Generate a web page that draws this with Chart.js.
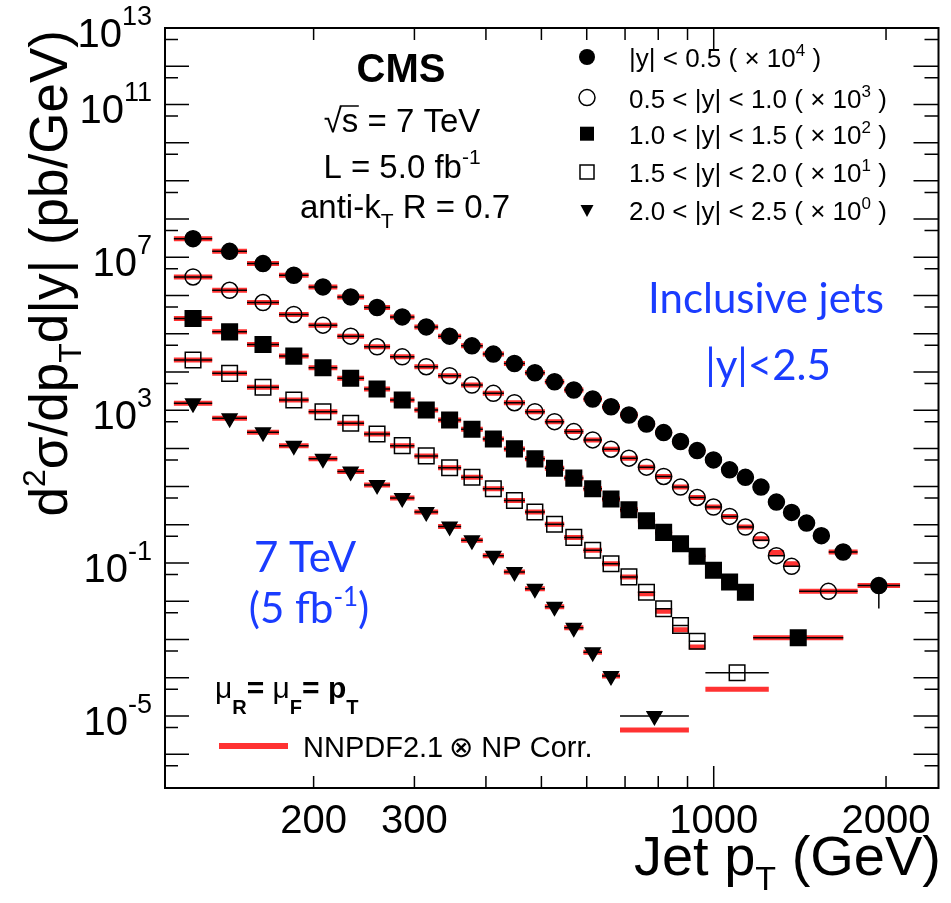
<!DOCTYPE html>
<html>
<head>
<meta charset="utf-8">
<title>CMS inclusive jets 7 TeV</title>
<script src="https://cdn.jsdelivr.net/npm/chart.js@4.4.1/dist/chart.umd.min.js"></script>
<style>
  html, body { margin: 0; padding: 0; background: #fff; }
  canvas { display: block; }
</style>
</head>
<body>
<canvas id="jetChart" width="951" height="903"></canvas>
<script>
// jet pT bin edges (GeV)
const binEdges = [114, 133, 153, 174, 196, 220, 245, 272, 300, 330, 362, 395, 430, 468, 507, 548, 592, 638, 686, 737, 790, 846, 905, 967, 1032, 1101, 1172, 1248, 1327, 1410, 1497, 1588, 1684, 1784, 1890, 2000, 2116];

const rapidityBins = ['|y| < 0.5', '0.5 < |y| < 1.0', '1.0 < |y| < 1.5', '1.5 < |y| < 2.0', '2.0 < |y| < 2.5'];
const scaleExps = [4, 3, 2, 1, 0];
// number of regular bins per rapidity range, then the wide bins at the end
const nRegular = [31, 29, 26, 23, 18];
const mergedBins = [
  [[1588, 1784], [1784, 2116]],
  [[1410, 1784]],
  [[1172, 1684]],
  [[967, 1248]],
  [[686, 905]]
];

// measured d2sigma/dpT d|y| (pb/GeV), before the scale factor
const dataY05 = [3.08e3, 1.43e3, 6.85e2, 3.39e2, 1.68e2, 92, 48.7, 27.6, 15.1, 8.65, 4.83, 2.93, 1.67, 0.95, 0.555, 0.337, 0.196, 0.123, 0.075, 0.0436, 0.0259, 0.0151, 0.00877, 0.0050, 0.00275, 0.00175, 0.00097, 0.000394, 0.000211, 0.000111, 5.2e-5, 1.95e-5, 2.57e-6];
const dataY10 = [3.06e3, 1.37e3, 656, 319, 168, 86.5, 45.5, 24.9, 13.7, 7.96, 4.55, 2.76, 1.57, 0.914, 0.501, 0.275, 0.167, 0.0953, 0.0555, 0.0323, 0.0184, 0.0097, 0.00519, 0.00292, 0.00166, 0.000877, 0.000392, 0.000156, 8.2e-5, 1.82e-5];
const dataY15 = [2510, 1120, 526, 260, 129, 68.1, 35.8, 18.5, 10.1, 5.55, 3.17, 1.77, 0.97, 0.532, 0.301, 0.167, 0.0877, 0.0472, 0.0248, 0.0128, 0.00634, 0.00321, 0.0015, 0.000646, 0.000321, 0.000172, 1.11e-5];
const dataY20 = [2050, 919, 396, 185, 91.4, 45.5, 23.9, 11.8, 6.37, 3.10, 1.75, 0.877, 0.434, 0.216, 0.104, 0.0469, 0.0215, 0.00964, 0.00434, 0.00172, 0.000634, 0.000232, 9.04e-5, 1.35e-5];
const dataY25 = [1510, 615, 265, 118, 53.2, 24.8, 11.1, 5.01, 2.16, 0.908, 0.392, 0.156, 0.0586, 0.0211, 0.00718, 0.00202, 0.000466, 0.00011, 9.93e-6];

// NNPDF2.1 x NP corrections prediction
const theoryY05 = [3.08e3, 1.43e3, 6.85e2, 3.39e2, 1.68e2, 92, 48.7, 27.6, 15.1, 8.65, 4.83, 2.93, 1.67, 0.95, 0.555, 0.337, 0.196, 0.123, 0.075, 0.0436, 0.0259, 0.0151, 0.00877, 0.0050, 0.00275, 0.00175, 0.00097, 0.000394, 0.000211, 0.000111, 5.2e-5, 1.95e-5, 2.57e-6];
const theoryY10 = [3.06e3, 1.37e3, 656, 319, 168, 86.5, 45.5, 24.9, 13.7, 7.96, 4.55, 2.76, 1.57, 0.914, 0.501, 0.275, 0.167, 0.0953, 0.0555, 0.0323, 0.0184, 0.0097, 0.00519, 0.00292, 0.00166, 0.000877, 0.00043, 0.00019, 9.6e-5, 1.82e-5];
const theoryY15 = [2510, 1120, 526, 260, 129, 68.1, 35.8, 18.5, 10.1, 5.55, 3.17, 1.77, 0.97, 0.532, 0.301, 0.167, 0.0877, 0.0472, 0.0248, 0.0128, 0.00634, 0.00321, 0.0015, 0.000646, 0.000321, 0.000172, 1.11e-5];
const theoryY20 = [2050, 919, 396, 185, 91.4, 45.5, 23.9, 11.8, 6.37, 3.10, 1.75, 0.877, 0.434, 0.216, 0.104, 0.0469, 0.0215, 0.00964, 0.00434, 0.00158, 0.000552, 0.000179, 6.4e-5, 4.95e-6];
const theoryY25 = [1510, 615, 265, 118, 53.2, 24.8, 11.1, 5.01, 2.16, 0.908, 0.392, 0.156, 0.0586, 0.0211, 0.00718, 0.00202, 0.000466, 0.00011, 4.29e-6];

// vertical error on the last |y|<0.5 point
const lastErrY05 = [6.5e-7, 4.2e-6];

// axis ticks
const xTickLabels = [200, 300, 1000, 2000];
const xMinorTicks = [200, 300, 400, 500, 600, 700, 800, 900, 2000];
const xMajorTicks = [1000];
const yLabelExps = [13, 11, 7, 3, -1, -5];

const FONT = '"Liberation Sans", Arial, Helvetica, "DejaVu Sans", sans-serif';
const BLUE_FONT = 'Lato, "Open Sans", sans-serif';
const BLUE = '#1a3cff';
const RED = 'rgb(255, 50, 50)';

const measured = [dataY05, dataY10, dataY15, dataY20, dataY25];
const theory = [theoryY05, theoryY10, theoryY15, theoryY20, theoryY25];
const markerStyles = [
  { style: 'circle', filled: true, radius: 8, rot: 0 },
  { style: 'circle', filled: false, radius: 8, rot: 0 },
  { style: 'rect', filled: true, radius: 11, rot: 0 },
  { style: 'rect', filled: false, radius: 11, rot: 0 },
  { style: 'triangle', filled: true, radius: 8.5, rot: 180 }
];

function binsOf(k) {
  const list = [];
  for (let i = 0; i < nRegular[k]; i++) list.push([binEdges[i], binEdges[i + 1]]);
  return list.concat(mergedBins[k]);
}

function horizontalBars(bins, vals, scale) {
  const pts = [];
  bins.forEach((b, i) => {
    pts.push({ x: b[0], y: vals[i] * scale }, { x: b[1], y: vals[i] * scale }, { x: NaN, y: NaN });
  });
  return pts;
}

const datasets = [];
measured.forEach((vals, k) => {
  const bins = binsOf(k);
  const scale = Math.pow(10, scaleExps[k]);
  const m = markerStyles[k];
  datasets.push({
    label: 'theory ' + rapidityBins[k],
    data: horizontalBars(bins, theory[k], scale),
    showLine: true, pointRadius: 0, borderColor: RED, borderWidth: 5,
    borderCapStyle: 'butt', order: 3
  });
  datasets.push({
    label: 'xerr ' + rapidityBins[k],
    data: horizontalBars(bins, vals, scale),
    showLine: true, pointRadius: 0, borderColor: '#000', borderWidth: 1.5,
    borderCapStyle: 'butt', order: 2
  });
  datasets.push({
    label: rapidityBins[k],
    data: bins.map((b, i) => ({ x: Math.sqrt(b[0] * b[1]), y: vals[i] * scale })),
    showLine: false, pointStyle: m.style, pointRadius: m.radius, pointRotation: m.rot,
    pointBackgroundColor: m.filled ? '#000' : 'rgba(0,0,0,0)',
    pointBorderColor: '#000', pointBorderWidth: 1.5, order: 1
  });
});

// vertical error bar of the last |y|<0.5 point
const lastBin = mergedBins[0][mergedBins[0].length - 1];
const lastX = Math.sqrt(lastBin[0] * lastBin[1]);
datasets.push({
  label: 'yerr',
  data: lastErrY05.map(v => ({ x: lastX, y: v * Math.pow(10, scaleExps[0]) })),
  showLine: true, pointRadius: 0, borderColor: '#000', borderWidth: 1.5, order: 2
});

function font(size, bold) { return (bold ? 'bold ' : '') + size + 'px ' + FONT; }

function drawRuns(ctx, parts, x, y, align) {
  let total = 0;
  parts.forEach(p => { ctx.font = p.font; p.w = ctx.measureText(p.t).width; total += p.w; });
  let cx = align === 'center' ? x - total / 2 : (align === 'right' ? x - total : x);
  parts.forEach(p => {
    ctx.font = p.font;
    ctx.fillText(p.t, cx, y + (p.dy || 0));
    p.x = cx;
    cx += p.w;
  });
  return parts;
}

function drawMarker(ctx, k, x, y) {
  const m = markerStyles[k];
  ctx.beginPath();
  if (m.style === 'circle') ctx.arc(x, y, 8, 0, 2 * Math.PI);
  else if (m.style === 'rect') ctx.rect(x - 7, y - 7, 14, 14);
  else { ctx.moveTo(x - 6.5, y - 5); ctx.lineTo(x + 6.5, y - 5); ctx.lineTo(x, y + 7); ctx.closePath(); }
  if (m.filled) ctx.fill(); else ctx.stroke();
}

const decorations = {
  id: 'decorations',
  afterDraw(chart) {
    const ctx = chart.ctx;
    const area = chart.chartArea;
    const xs = chart.scales.x, ys = chart.scales.y;
    ctx.save();
    ctx.strokeStyle = '#000';
    ctx.fillStyle = '#000';
    ctx.textAlign = 'left';
    ctx.textBaseline = 'alphabetic';

    // frame
    ctx.lineWidth = 2;
    ctx.strokeRect(area.left, area.top, area.right - area.left, area.bottom - area.top);

    // ticks pointing inwards, mirrored on all sides
    ctx.lineWidth = 1.5;
    ctx.beginPath();
    for (let n = -7; n <= 13; n++) {
      [[Math.pow(10, n), 24], [5 * Math.pow(10, n - 1), 13]].forEach(([v, len]) => {
        if (v < ys.min || v > ys.max) return;
        const py = ys.getPixelForValue(v);
        ctx.moveTo(area.left, py); ctx.lineTo(area.left + len, py);
        ctx.moveTo(area.right, py); ctx.lineTo(area.right - len - 1, py);
      });
    }
    const xTick = (v, len) => {
      const px = xs.getPixelForValue(v);
      ctx.moveTo(px, area.bottom); ctx.lineTo(px, area.bottom - len);
      ctx.moveTo(px, area.top); ctx.lineTo(px, area.top + len);
    };
    xMinorTicks.forEach(v => xTick(v, 12));
    xMajorTicks.forEach(v => xTick(v, 22));
    ctx.stroke();

    // tick labels
    yLabelExps.forEach(e => {
      const py = ys.getPixelForValue(Math.pow(10, e));
      drawRuns(ctx, [{ t: '10', font: font(40) }, { t: String(e), font: font(27), dy: -22 }], 152, py + 19, 'right');
    });
    ctx.font = font(40);
    ctx.textAlign = 'center';
    xTickLabels.forEach(v => ctx.fillText(String(v), xs.getPixelForValue(v), 833));
    ctx.textAlign = 'left';

    // axis titles
    drawRuns(ctx, [
      { t: 'Jet p', font: font(56) },
      { t: 'T', font: font(34), dy: 15 },
      { t: ' (GeV)', font: font(56) }
    ], 941, 875, 'right');
    ctx.save();
    ctx.translate(67, 30);
    ctx.rotate(-Math.PI / 2);
    drawRuns(ctx, [
      { t: 'd', font: font(53) },
      { t: '2', font: font(32), dy: -22 },
      { t: '\u03c3/dp', font: font(53) },
      { t: 'T', font: font(32), dy: 14 },
      { t: 'd|y| (pb/GeV)', font: font(53) }
    ], 0, 0, 'right');
    ctx.restore();

    // CMS block
    ctx.font = font(40, true);
    ctx.textAlign = 'center';
    ctx.fillText('CMS', 401, 82);
    ctx.textAlign = 'left';
    const sq = drawRuns(ctx, [
      { t: '\u221a', font: font(33) },
      { t: 's = 7 TeV', font: font(33) }
    ], 402, 132, 'center');
    ctx.lineWidth = 1.5;
    ctx.beginPath();
    ctx.moveTo(sq[0].x + sq[0].w - 2, 106);
    ctx.lineTo(sq[1].x + 17, 106);
    ctx.stroke();
    drawRuns(ctx, [
      { t: 'L = 5.0 fb', font: font(33) },
      { t: '-1', font: font(21), dy: -14 }
    ], 402, 178, 'center');
    drawRuns(ctx, [
      { t: 'anti-k', font: font(33) },
      { t: 'T', font: font(21), dy: 10 },
      { t: ' R = 0.7', font: font(33) }
    ], 405, 218, 'center');

    // rapidity legend
    const rows = [67, 107.6, 143.7, 182, 220];
    rapidityBins.forEach((lab, k) => {
      ctx.lineWidth = 1.5;
      drawMarker(ctx, k, 587, rows[k] - 10);
      drawRuns(ctx, [
        { t: lab + ' ( \u00d7 10', font: font(26) },
        { t: String(scaleExps[k]), font: font(17), dy: -11 },
        { t: ' )', font: font(26) }
      ], 629, rows[k], 'left');
    });

    // blue annotations
    ctx.fillStyle = BLUE;
    ctx.textAlign = 'center';
    ctx.font = '42px ' + BLUE_FONT;
    ctx.fillText('Inclusive jets', 766, 313);
    ctx.fillText('|y|<2.5', 768, 380);
    ctx.fillText('7 TeV', 305, 572);
    ctx.textAlign = 'left';
    drawRuns(ctx, [
      { t: '(5 fb', font: '42px ' + BLUE_FONT },
      { t: '-1', font: '26px ' + BLUE_FONT, dy: -17 },
      { t: ')', font: '42px ' + BLUE_FONT }
    ], 309, 623, 'center');

    // scale choice and theory legend
    ctx.fillStyle = '#000';
    drawRuns(ctx, [
      { t: '\u03bc', font: font(30) },
      { t: 'R', font: font(20, true), dy: 16 },
      { t: '= ', font: font(30, true) },
      { t: '\u03bc', font: font(30) },
      { t: 'F', font: font(20, true), dy: 16 },
      { t: '= ', font: font(30, true) },
      { t: 'p', font: font(30, true) },
      { t: 'T', font: font(20, true), dy: 16 }
    ], 215, 698, 'left');
    ctx.fillStyle = RED;
    ctx.fillRect(219, 743, 69, 6);
    ctx.fillStyle = '#000';
    ctx.font = font(29);
    ctx.fillText('NNPDF2.1\u2009\u2297 NP Corr.', 303, 757);

    ctx.restore();
  }
};

new Chart(document.getElementById('jetChart'), {
  type: 'scatter',
  data: { datasets: datasets },
  options: {
    responsive: false,
    animation: false,
    events: [],
    layout: { padding: { left: 165, top: 28, right: 4, bottom: 115 } },
    scales: {
      x: { type: 'logarithmic', min: 110, max: 2470, bounds: 'data', display: false },
      y: { type: 'logarithmic', min: 1.3e-7, max: 1e13, bounds: 'data', display: false }
    },
    plugins: { legend: { display: false }, tooltip: { enabled: false } }
  },
  plugins: [decorations]
});
</script>
</body>
</html>
